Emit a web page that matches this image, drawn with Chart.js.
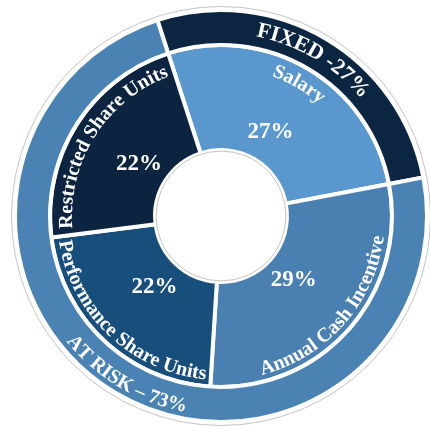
<!DOCTYPE html>
<html>
<head>
<meta charset="utf-8">
<script src="https://cdn.jsdelivr.net/npm/chart.js@4.4.1/dist/chart.umd.min.js"></script>
<style>
  html, body { margin: 0; padding: 0; background: #fff; }
  #wrap { width: 430px; height: 433px; }
</style>
</head>
<body>
<div id="wrap"><canvas id="grafico"></canvas></div>
<script>
// anillo exterior: fijo / en riesgo
var groupLabels = ['FIXED -27%', 'AT RISK \u2013 73%'];
var groupValues = [27, 73];
// anillo interior: componentes
var partLabels = ['Salary', 'Annual Cash Incentive', 'Performance Share Units', 'Restricted Share Units'];
var partValues = [27, 29, 22, 22];
var percentLabels = ['27%', '29%', '22%', '22%'];

var fuente = '"Liberation Serif", "Times New Roman", serif';

// dibuja texto siguiendo un arco; haciaAfuera = letras con la parte de arriba hacia fuera
function textoCurvo(ctx, txt, cx, cy, r, mid, haciaAfuera, font) {
    ctx.save();
    ctx.font = font;
    ctx.fillStyle = '#fff';
    ctx.textAlign = 'center';
    ctx.textBaseline = 'alphabetic';
    var total = 0;
    for (var i = 0; i < txt.length; i++) total += ctx.measureText(txt[i]).width;
    var sign = haciaAfuera ? 1 : -1;
    var a = mid - sign * total / 2 / r;
    var offset = 0;
    for (var j = 0; j < txt.length; j++) {
        var w = ctx.measureText(txt[j]).width;
        var ang = a + sign * (offset + w / 2) / r;
        ctx.save();
        ctx.translate(cx + r * Math.cos(ang), cy + r * Math.sin(ang));
        ctx.rotate(ang + sign * Math.PI / 2);
        ctx.fillText(txt[j], 0, 0);
        ctx.restore();
        offset += w;
    }
    ctx.restore();
}

var etiquetas = {
    id: 'etiquetas',
    afterDatasetsDraw: function (chart) {
        var ctx = chart.ctx;
        var exterior = chart.getDatasetMeta(0).data;
        var interior = chart.getDatasetMeta(1).data;
        var cx = exterior[0].x, cy = exterior[0].y;
        var rOut = exterior[0].outerRadius;
        var rHole = interior[0].innerRadius;

        // contornos grises finos
        ctx.save();
        ctx.strokeStyle = '#c4c4c4';
        ctx.lineWidth = 1;
        ctx.beginPath();
        ctx.arc(cx, cy, rOut + 3.5, 0, Math.PI * 2);
        ctx.stroke();
        ctx.beginPath();
        ctx.arc(cx, cy, rHole - 1, 0, Math.PI * 2);
        ctx.stroke();
        ctx.restore();

        var flipGrupo = [true, false];
        var radioGrupo = [183, 199];
        var tamGrupo = [22, 20];
        exterior.forEach(function (arc, i) {
            var mid = (arc.startAngle + arc.endAngle) / 2;
            textoCurvo(ctx, groupLabels[i], cx, cy, radioGrupo[i], mid, flipGrupo[i],
                'bold ' + tamGrupo[i] + 'px ' + fuente);
        });

        var flipParte = [true, false, false, true];
        var radioParte = [149, 164, 164, 149];
        interior.forEach(function (arc, i) {
            var mid = (arc.startAngle + arc.endAngle) / 2;
            textoCurvo(ctx, partLabels[i], cx, cy, radioParte[i], mid, flipParte[i], 'bold 20px ' + fuente);
            ctx.save();
            ctx.font = 'bold 23px ' + fuente;
            ctx.fillStyle = '#fff';
            ctx.textAlign = 'center';
            ctx.textBaseline = 'middle';
            ctx.fillText(percentLabels[i], cx + 97 * Math.cos(mid), cy + 97 * Math.sin(mid));
            ctx.restore();
        });
    }
};

var ctx = document.getElementById('grafico').getContext('2d');
var chart = new Chart(ctx, {
    type: 'doughnut',
    data: {
        labels: partLabels,
        datasets: [{
            label: 'Grupo',
            data: groupValues,
            backgroundColor: ['#0c2540', '#4a83b3'],
            borderColor: '#fff',
            borderWidth: 4,
            weight: 1
        }, {
            label: 'Componente',
            data: partValues,
            backgroundColor: ['#5b97cf', '#4a80b1', '#184e7c', '#0c243f'],
            borderColor: '#fff',
            borderWidth: 4,
            weight: 3
        }]
    },
    options: {
        responsive: true,
        maintainAspectRatio: false,
        animation: false,
        events: [],
        rotation: -18,
        cutout: '32%',
        layout: { padding: { left: 13, right: 1, top: 8, bottom: 9 } },
        plugins: {
            legend: { display: false },
            tooltip: { enabled: false }
        }
    },
    plugins: [etiquetas]
});
</script>
</body>
</html>
